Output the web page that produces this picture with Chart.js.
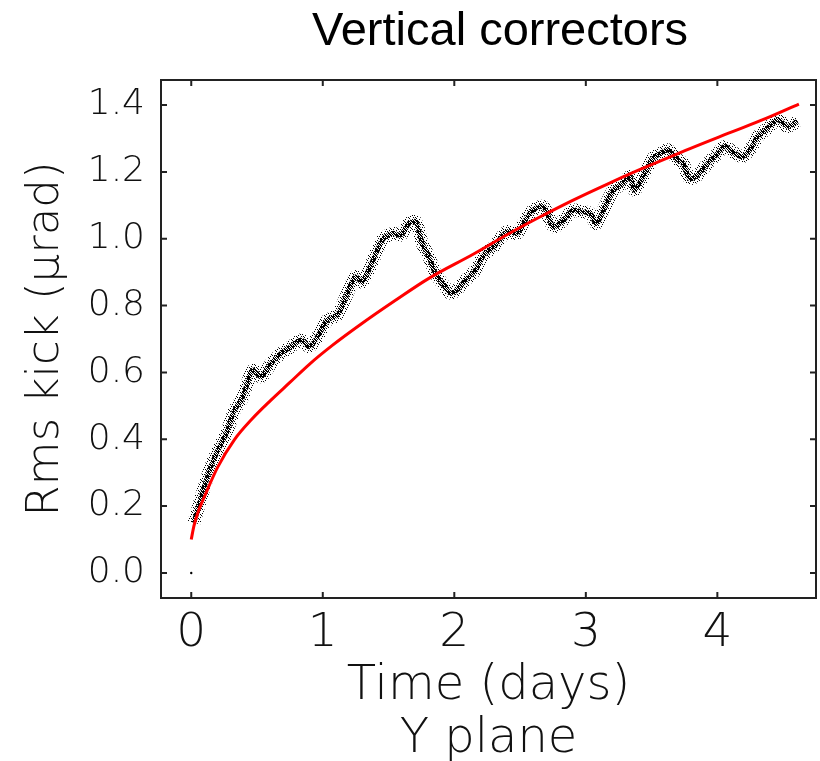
<!DOCTYPE html>
<html>
<head>
<meta charset="utf-8">
<script src="https://cdn.jsdelivr.net/npm/chart.js@4.4.1/dist/chart.umd.min.js"></script>
<style>
  html, body { margin: 0; padding: 0; background: #fff; }
  #wrap { width: 820px; height: 761px; }
</style>
</head>
<body>
<div id="wrap"><canvas id="kickChart"></canvas></div>
<script>
const rmsDays = [0.02, 0.077, 0.14, 0.203, 0.267, 0.33, 0.38, 0.418, 0.468, 0.53, 0.607, 0.683, 0.759, 0.835, 0.898, 0.96,
  1.036, 1.11, 1.176, 1.25, 1.30, 1.377, 1.453, 1.529, 1.592, 1.655, 1.706, 1.756, 1.807, 1.857, 1.92, 1.971,
  2.02, 2.085, 2.16, 2.223, 2.30, 2.40, 2.476, 2.54, 2.60, 2.678, 2.754, 2.83, 2.905, 2.956,
  3.03, 3.08, 3.145, 3.21, 3.284, 3.335, 3.37, 3.436, 3.51, 3.574, 3.625, 3.70, 3.739, 3.789, 3.852, 3.928,
  4.004, 4.055, 4.13, 4.193, 4.256, 4.307, 4.383, 4.458, 4.534, 4.61];
const rmsKick = [0.15, 0.228, 0.308, 0.368, 0.418, 0.488, 0.517, 0.557, 0.607, 0.587, 0.627, 0.657, 0.677, 0.697, 0.677, 0.707,
  0.757, 0.772, 0.827, 0.886, 0.871, 0.931, 0.996, 1.016, 1.011, 1.046, 1.051, 0.986, 0.946, 0.896, 0.861, 0.837,
  0.847, 0.876, 0.906, 0.951, 0.976, 1.021, 1.016, 1.056, 1.086, 1.096, 1.036, 1.056, 1.086, 1.081,
  1.076, 1.046, 1.096, 1.146, 1.166, 1.186, 1.146, 1.186, 1.241, 1.256, 1.266, 1.236, 1.226, 1.181, 1.191, 1.226,
  1.256, 1.276, 1.256, 1.246, 1.271, 1.306, 1.331, 1.356, 1.336, 1.351];

// red fitted curve
const fitDays = [0, 0.02, 0.05, 0.1, 0.2, 0.33, 0.46, 0.6, 0.75, 0.9, 1.07, 1.3, 1.55, 1.8, 2.15, 2.4, 2.65, 2.9, 3.16, 3.4, 3.7, 4.08, 4.37, 4.62];
const fitKick = [0.10, 0.14, 0.18, 0.228, 0.316, 0.40, 0.46, 0.515, 0.57, 0.625, 0.68, 0.747, 0.815, 0.88, 0.955, 1.012, 1.065, 1.115, 1.163, 1.205, 1.255, 1.315, 1.36, 1.403];

// lone point at the origin
const originDays = [0];
const originKick = [0];

const xTicks = [0, 1, 2, 3, 4];
const yTicks = [0.0, 0.2, 0.4, 0.6, 0.8, 1.0, 1.2, 1.4];

const titleText = 'Vertical correctors';
const yTitle = 'Rms kick (\u03bcrad)';
const xTitle = ['Time (days)', 'Y plane'];

const toPoints = (xs, ys) => xs.map((v, i) => ({ x: v, y: ys[i] }));

// stipple patterns so the band looks like a cloud of dots
function stipple(cells, size) {
  const c = document.createElement('canvas');
  c.width = size; c.height = size;
  const g = c.getContext('2d');
  g.fillStyle = '#000';
  cells.forEach(([cx, cy]) => g.fillRect(cx, cy, 1, 1));
  return g.createPattern(c, 'repeat');
}
const ctx = document.getElementById('kickChart').getContext('2d');
const sparseDots = stipple([[0, 0], [3, 1], [6, 2], [2, 3], [5, 4], [1, 5], [4, 6], [6, 5], [2, 0], [4, 3]], 7);
const denseDots = stipple([[0, 0], [1, 0], [3, 0], [1, 1], [2, 1], [4, 1], [0, 2], [2, 2], [3, 2], [4, 3],
  [1, 3], [3, 3], [0, 4], [2, 4], [4, 4], [3, 1]], 5);

const tickFont = { family: '"DejaVu Sans", sans-serif', weight: '200' };

const framePlugin = {
  id: 'frame',
  afterDraw(chart) {
    const { ctx, chartArea: a, scales: { x, y } } = chart;
    ctx.save();
    ctx.strokeStyle = '#222';
    ctx.lineWidth = 2;
    ctx.strokeRect(a.left, a.top, a.right - a.left, a.bottom - a.top);
    ctx.beginPath();
    x.ticks.forEach(t => {
      const px = x.getPixelForValue(t.value);
      ctx.moveTo(px, a.bottom); ctx.lineTo(px, a.bottom - 6);
      ctx.moveTo(px, a.top); ctx.lineTo(px, a.top + 6);
    });
    y.ticks.forEach(t => {
      const py = y.getPixelForValue(t.value);
      ctx.moveTo(a.left, py); ctx.lineTo(a.left + 6, py);
      ctx.moveTo(a.right, py); ctx.lineTo(a.right - 6, py);
    });
    ctx.stroke();
    // plot title
    ctx.fillStyle = '#000';
    ctx.font = '47px "Liberation Sans", Arial, sans-serif';
    ctx.textAlign = 'center';
    ctx.textBaseline = 'alphabetic';
    ctx.fillText(titleText, 500, 45);
    ctx.restore();
  }
};

new Chart(ctx, {
  type: 'line',
  data: {
    datasets: [
      {
        label: 'fit',
        data: toPoints(fitDays, fitKick),
        borderColor: '#ff0000',
        borderWidth: 3,
        pointRadius: 0,
        cubicInterpolationMode: 'monotone',
        fill: false
      },
      {
        label: 'origin',
        data: toPoints(originDays, originKick),
        showLine: false,
        pointRadius: 1.2,
        pointBackgroundColor: '#000',
        pointBorderWidth: 0
      },
      {
        label: 'rms core',
        data: toPoints(rmsDays, rmsKick),
        borderColor: denseDots,
        borderWidth: 5,
        pointRadius: 0,
        tension: 0.3,
        fill: false
      },
      {
        label: 'rms spread',
        data: toPoints(rmsDays, rmsKick),
        borderColor: sparseDots,
        borderWidth: 13,
        pointRadius: 0,
        tension: 0.3,
        fill: false
      }
    ]
  },
  options: {
    responsive: true,
    maintainAspectRatio: false,
    animation: false,
    layout: { padding: { top: 80, right: 2, bottom: 0, left: 0 } },
    plugins: {
      legend: { display: false },
      tooltip: { enabled: false }
    },
    scales: {
      x: {
        type: 'linear',
        min: -0.23,
        max: 4.75,
        grid: { display: false, drawTicks: false },
        border: { display: false },
        afterBuildTicks: s => { s.ticks = xTicks.map(v => ({ value: v })); },
        afterFit: s => { s.height = 163; },
        ticks: {
          autoSkip: false,
          maxRotation: 0,
          padding: 8,
          color: '#111',
          font: { ...tickFont, size: 47 },
          callback: v => String(v)
        },
        title: {
          display: true,
          text: xTitle,
          color: '#111',
          padding: { top: 0, bottom: -5 },
          font: { ...tickFont, size: 48, lineHeight: 1.1 }
        }
      },
      y: {
        type: 'linear',
        min: -0.075,
        max: 1.475,
        grid: { display: false, drawTicks: false },
        border: { display: false },
        afterBuildTicks: s => { s.ticks = yTicks.map(v => ({ value: v })); },
        afterFit: s => { s.width = 161; },
        ticks: {
          padding: 16,
          color: '#111',
          font: { ...tickFont, size: 36 },
          callback: v => v.toFixed(1)
        },
        title: {
          display: true,
          text: yTitle,
          color: '#111',
          padding: { top: 19, bottom: 0 },
          font: { ...tickFont, size: 45 }
        }
      }
    }
  },
  plugins: [framePlugin]
});
</script>
</body>
</html>
